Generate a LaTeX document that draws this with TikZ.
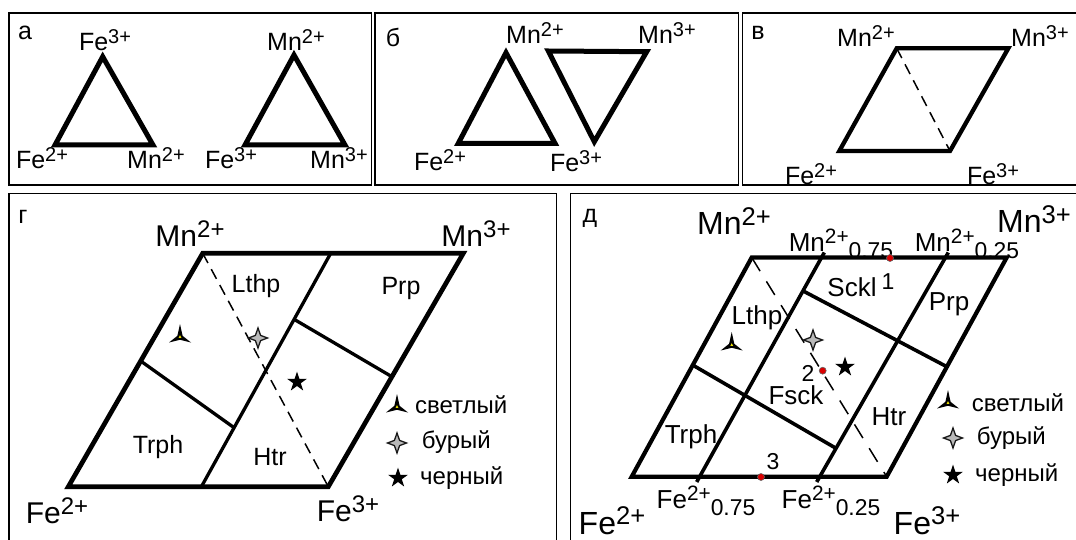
\documentclass[tikz,border=0pt]{standalone}
\usepackage{fontspec}
\setmainfont{Liberation Sans}
\usetikzlibrary{calc}

\newcommand{\chg}[1]{\raisebox{0.3em}{\scalebox{0.8}{#1}}}
\newcommand{\frc}[1]{\raisebox{-0.3em}{\scalebox{0.88}{#1}}}

\begin{document}
\begin{tikzpicture}[
  x=1pt, y=-1pt,
  frame/.style={line width=1.5pt},
  rim/.style={line width=5pt, line join=miter},
  rib/.style={line width=3.3pt},
  tie/.style={line width=1.5pt, dash pattern=on 11pt off 7pt},
  longtie/.style={line width=1.5pt, dash pattern=on 16pt off 12pt},
  lbl/.style={inner sep=0pt, font=\fontsize{#1}{#1}\selectfont},
  lbl/.default=25,
  dot/.style={circle, fill=red!85!black, draw=black!60, line width=0.6pt, minimum size=7pt, inner sep=0pt},
  lightmark/.pic={
    \fill[black] (0,-13) -- (2.6,-1.2) -- (11,5.5) -- (0,2.8) -- (-11,5.5) -- (-2.6,-1.2) -- cycle;
    \fill[yellow!80!olive] (0,-1.8) -- (1.4,0.9) -- (-1.4,0.9) -- cycle;
  },
  brownmark/.pic={
    \filldraw[fill=gray!55, draw=black!90, line width=1.3pt]
      (0,-10) -- (2.6,-2.6) -- (9.5,0) -- (2.6,2.6) -- (0,10) -- (-2.6,2.6) -- (-9.5,0) -- (-2.6,-2.6) -- cycle;
  },
  blackmark/.pic={
    \fill[black] (270:10.5) \foreach \k in {1,...,4}{ -- (270+\k*144:10.5)} -- cycle;
  },
]
\clip (0,0) rectangle (1076,540);

\draw[frame] (9,13) rectangle (371.7,185);
\draw[frame] (375,13) rectangle (738.3,185);
\draw[frame] (742.3,13) rectangle (1090,185);
\draw[frame] (9,193.3) rectangle (556.7,560);
\draw[frame] (570.7,193.3) rectangle (1090,560);

% а
\coordinate (a1t) at (102.7,56.7);
\coordinate (a1l) at (55,145);
\coordinate (a1r) at (153,145);
\coordinate (a2t) at (294,55);
\coordinate (a2l) at (245,145);
\coordinate (a2r) at (345,145);
\draw[rim] (a1t) -- (a1l) -- (a1r) -- cycle;
\draw[rim] (a2t) -- (a2l) -- (a2r) -- cycle;
\node[lbl] (pa) at (25,33) {а};
\node[lbl] (a1tl) at (105,40) {Fe\chg{3+}};
\node[lbl] (a1ll) at (42,158) {Fe\chg{2+}};
\node[lbl] (a1rl) at (156,158) {Mn\chg{2+}};
\node[lbl] (a2tl) at (296,40) {Mn\chg{2+}};
\node[lbl] (a2ll) at (231,158) {Fe\chg{3+}};
\node[lbl] (a2rl) at (339,158) {Mn\chg{3+}};

% б
\coordinate (b1t) at (506,52.7);
\coordinate (b1l) at (458.3,143.3);
\coordinate (b1r) at (555,143.3);
\coordinate (b2l) at (548.3,51);
\coordinate (b2r) at (646.7,51.7);
\coordinate (b2b) at (594.3,141.7);
\draw[rim] (b1t) -- (b1l) -- (b1r) -- cycle;
\draw[rim] (b2l) -- (b2r) -- (b2b) -- cycle;
\node[lbl] (pb) at (393,37) {б};
\node[lbl] (b1tl) at (535,33) {Mn\chg{2+}};
\node[lbl] (b2rl) at (667,33) {Mn\chg{3+}};
\node[lbl] (b1ll) at (440,160) {Fe\chg{2+}};
\node[lbl] (b2bl) at (576,161) {Fe\chg{3+}};

% в
\coordinate (ctl) at (896.7,48.3);
\coordinate (ctr) at (1008.3,48.3);
\coordinate (cbr) at (950,151);
\coordinate (cbl) at (839.3,151);
\draw[rim, line width=4.3pt] (ctl) -- (ctr) -- (cbr) -- (cbl) -- cycle;
\draw[tie] (ctl) -- (cbr);
\node[lbl] (pc) at (758,33) {в};
\node[lbl] (ctll) at (866,36) {Mn\chg{2+}};
\node[lbl] (ctrl) at (1040,36) {Mn\chg{3+}};
\node[lbl] (cbll) at (811,174) {Fe\chg{2+}};
\node[lbl] (cbrl) at (993,174) {Fe\chg{3+}};

% г
\coordinate (gtl) at (202.7,253.3);
\coordinate (gtr) at (463.3,253.3);
\coordinate (gbr) at (328.3,486.7);
\coordinate (gbl) at (68.3,486.7);
\coordinate (gmt) at (330.7,253.3);
\coordinate (gmb) at (201.4,486.7);
\coordinate (gl1) at (140.7,361);
\coordinate (gl2) at (234.1,427.7);
\coordinate (gr1) at (294.1,319.3);
\coordinate (gr2) at (391.9,376.7);
\draw[rib] (gmt) -- (gmb);
\draw[rib] (gl1) -- (gl2);
\draw[rib] (gr1) -- (gr2);
\draw[tie] (gtl) -- (gbr);
\draw[rim, line width=4.7pt] (gtl) -- (gtr) -- (gbr) -- (gbl) -- cycle;
\node[lbl] (pg) at (23,217) {г};
\node[lbl=30] (gtll) at (190,234) {Mn\chg{2+}};
\node[lbl=30] (gtrl) at (476,234) {Mn\chg{3+}};
\node[lbl=30] (gbll) at (57,511) {Fe\chg{2+}};
\node[lbl=30] (gbrl) at (348,509) {Fe\chg{3+}};
\node[lbl] (glthp) at (256,286) {Lthp};
\node[lbl] (gprp) at (401,288) {Prp};
\node[lbl] (gtrph) at (158,447) {Trph};
\node[lbl] (ghtr) at (270,457) {Htr};
\pic at (180,337) {lightmark};
\pic at (258,338) {brownmark};
\pic at (297,382) {blackmark};
\pic at (397,407) {lightmark};
\pic at (397,443) {brownmark};
\pic at (398,478) {blackmark};
\node[lbl=24, anchor=west] (gk1) at (415,405) {светлый};
\node[lbl=24, anchor=west] (gk2) at (421.7,442) {бурый};
\node[lbl=24, anchor=west] (gk3) at (420,478) {черный};

% д
\coordinate (dtl) at (751.7,257.5);
\coordinate (dtr) at (1006.7,257.5);
\coordinate (dbr) at (886.7,476.7);
\coordinate (dbl) at (631.7,476.7);
\coordinate (da1) at (824.3,252.5);
\coordinate (da2) at (696.7,482);
\coordinate (db1) at (948.3,252.5);
\coordinate (db2) at (816.7,482);
\coordinate (dl1) at (692.6,365);
\coordinate (dl2) at (836,448.3);
\coordinate (dr1) at (803.2,291);
\coordinate (dr2) at (946.8,366.7);
\draw[rib, line width=3.6pt] (da1) -- (da2);
\draw[rib, line width=3.6pt] (db1) -- (db2);
\draw[rib, line width=3.6pt] (dl1) -- (dl2);
\draw[rib, line width=3.6pt] (dr1) -- (dr2);
\draw[longtie] (dtl) -- (dbr);
\draw[rim, line width=4.2pt] (dtl) -- (dtr) -- (dbr) -- (dbl) -- cycle;
\node[lbl] (pd) at (590,218) {д};
\node[lbl=32] (dtll) at (734,221) {Mn\chg{2+}};
\node[lbl=32] (dtrl) at (1034,219) {Mn\chg{3+}};
\node[lbl=32] (dbll) at (612,521) {Fe\chg{2+}};
\node[lbl=32] (dbrl) at (927,521) {Fe\chg{3+}};
\node[lbl=26] (da1l) at (841,244) {Mn\chg{2+}\frc{0.75}};
\node[lbl=26] (db1l) at (967,244) {Mn\chg{2+}\frc{0.25}};
\node[lbl=26] (da2l) at (706,501) {Fe\chg{2+}\frc{0.75}};
\node[lbl=26] (db2l) at (831,501) {Fe\chg{2+}\frc{0.25}};
\node[lbl=26] (dsckl) at (852,287) {Sckl};
\node[lbl=26] (dprp) at (949,304) {Prp};
\node[lbl=26] (dlthp) at (757,318) {Lthp};
\node[lbl=26] (dfsck) at (796,395) {Fsck};
\node[lbl=26] (dhtr) at (889,417) {Htr};
\node[lbl=26] (dtrph) at (691,437) {Trph};
\pic at (731.7,345) {lightmark};
\pic at (813,340) {brownmark};
\pic at (845,367) {blackmark};
\node[dot] (p1) at (890,258) {};
\node[dot] (p2) at (822.7,370.7) {};
\node[dot] (p3) at (761,477) {};
\node[lbl=23] (n1) at (888,282) {1};
\node[lbl=23] (n2) at (808,373) {2};
\node[lbl=23] (n3) at (773,462) {3};
\pic at (948,403) {lightmark};
\pic at (953,438) {brownmark};
\pic at (953,475) {blackmark};
\node[lbl=24, anchor=west] (dk1) at (971.7,403) {светлый};
\node[lbl=24, anchor=west] (dk2) at (976.7,438) {бурый};
\node[lbl=24, anchor=west] (dk3) at (975,475) {черный};
\end{tikzpicture}
\end{document}
